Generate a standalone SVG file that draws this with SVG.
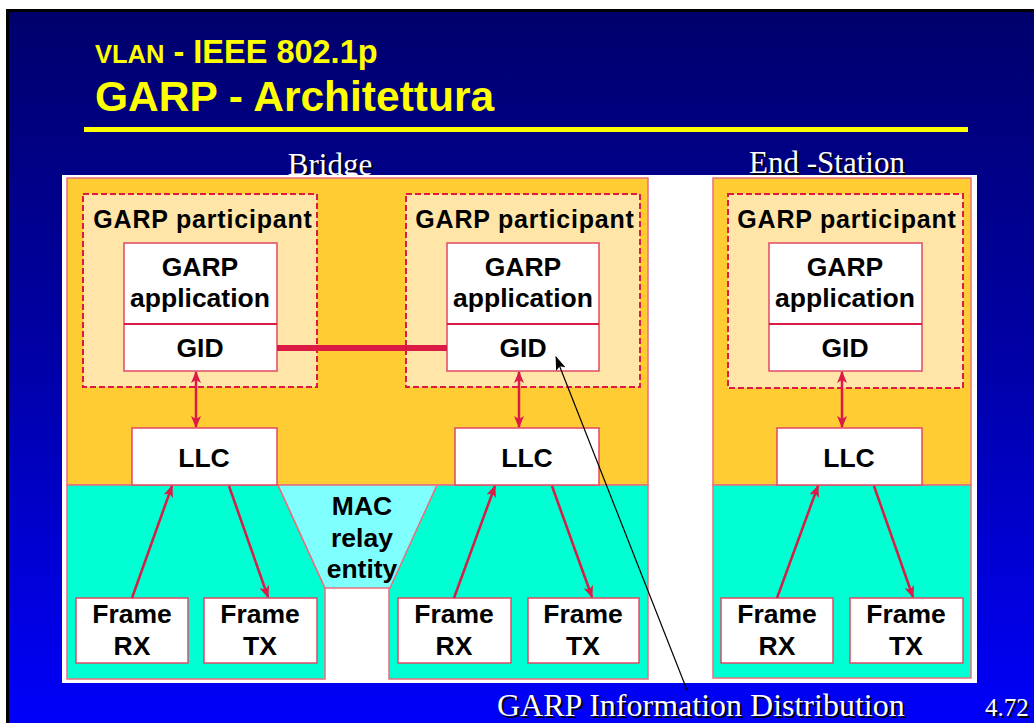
<svg xmlns="http://www.w3.org/2000/svg" width="1034" height="723" viewBox="0 0 1034 723">
<defs>
<linearGradient id="bg" x1="0" y1="0" x2="0" y2="1">
<stop offset="0" stop-color="#00006C"/>
<stop offset="0.5" stop-color="#0000A8"/>
<stop offset="1" stop-color="#0000FA"/>
</linearGradient>
<marker id="ah" viewBox="0 0 12 10" refX="11" refY="5" markerWidth="12" markerHeight="10" markerUnits="userSpaceOnUse" orient="auto-start-reverse">
<path d="M0,0 L12,5 L0,10 L3,5 z" fill="#DC1A46"/>
</marker>
<marker id="ahb" viewBox="0 0 14 10" refX="13" refY="5" markerWidth="14" markerHeight="10" markerUnits="userSpaceOnUse" orient="auto">
<path d="M0,0 L14,5 L0,10 L3,5 z" fill="#000"/>
</marker>
<style>
.sans{font-family:"Liberation Sans",Arial,sans-serif;font-weight:bold;}
.ser{font-family:"Liberation Serif","Times New Roman",serif;}
.orange{fill:#FFCC33;stroke:#E8707E;stroke-width:1.5;}
.cyan{fill:#00FFD2;stroke:#E8707E;stroke-width:1.5;}
.part{fill:#FFE6A8;stroke:#DC1A46;stroke-width:2;stroke-dasharray:6,3;}
.box{fill:#FFFFFF;stroke:#E04A66;stroke-width:1.5;}
.lbl{font-size:26.5px;fill:#000;text-anchor:middle;}
.plbl{font-size:25px;fill:#000;text-anchor:middle;letter-spacing:0.8px;}
.red{stroke:#DC1A46;stroke-width:2.5;fill:none;}
.wt{fill:#FFFFFF;}
.sh{fill:#000000;}
</style>
</defs>
<rect x="0" y="0" width="1034" height="723" fill="#FFFFFF"/>
<rect x="6" y="9" width="1028" height="714" fill="#000000"/>
<rect x="9" y="12" width="1025" height="711" fill="url(#bg)"/>

<g id="title">
<text x="95" y="63" class="sans" fill="#FFFF00" font-size="32.5"><tspan font-size="25.5">VLAN</tspan> - IEEE 802.1p</text>
<text x="95" y="111" class="sans" fill="#FFFF00" font-size="42.5">GARP - Architettura</text>
<rect x="84" y="127" width="884" height="5" fill="#FFFF00"/>
</g>

<g id="headings">
<text x="332" y="177" class="ser sh" font-size="31" text-anchor="middle">Bridge</text>
<text x="330" y="175" class="ser wt" font-size="31" text-anchor="middle">Bridge</text>
<text x="829" y="175" class="ser sh" font-size="31" text-anchor="middle">End -Station</text>
<text x="827" y="173" class="ser wt" font-size="31" text-anchor="middle">End -Station</text>
</g>

<rect id="panel" x="62" y="175" width="915" height="508" fill="#FFFFFF"/>

<g id="bridge">
<rect class="orange" x="67" y="178" width="581" height="307"/>
<polygon class="cyan" points="67,485 278,485 325,588 325,679 67,679"/>
<polygon class="cyan" points="437,485 648,485 648,679 389,679 389,588"/>
<polygon id="mac-relay" points="278,485 437,485 390,588 325,588" fill="#80FFFF" stroke="#E8707E" stroke-width="1.5"/>
<text class="sans lbl" x="362" y="515">MAC</text>
<text class="sans lbl" x="362" y="547">relay</text>
<text class="sans lbl" x="362" y="578">entity</text>
</g>

<g id="endstation">
<rect class="orange" x="713" y="178" width="258" height="307"/>
<rect class="cyan" x="713" y="485" width="258" height="193"/>
</g>

<g id="participant-left">
<rect class="part" x="83" y="194" width="234" height="193"/>
<text class="sans plbl" x="203" y="228">GARP participant</text>
<rect class="box" x="124" y="243" width="153" height="128"/>
<line x1="124" y1="324" x2="277" y2="324" stroke="#DC1A46" stroke-width="2"/>
<text class="sans lbl" x="200" y="276">GARP</text>
<text class="sans lbl" x="200" y="307">application</text>
<text class="sans lbl" x="200" y="357">GID</text>
</g>
<g id="participant-mid">
<rect class="part" x="406" y="194" width="234" height="193"/>
<text class="sans plbl" x="525" y="228">GARP participant</text>
<rect class="box" x="447" y="243" width="152" height="128"/>
<line x1="447" y1="324" x2="599" y2="324" stroke="#DC1A46" stroke-width="2"/>
<text class="sans lbl" x="523" y="276">GARP</text>
<text class="sans lbl" x="523" y="307">application</text>
<text class="sans lbl" x="523" y="357">GID</text>
</g>
<g id="participant-end">
<rect class="part" x="728" y="194" width="235" height="194"/>
<text class="sans plbl" x="847" y="228">GARP participant</text>
<rect class="box" x="769" y="243" width="153" height="128"/>
<line x1="769" y1="324" x2="922" y2="324" stroke="#DC1A46" stroke-width="2"/>
<text class="sans lbl" x="845" y="276">GARP</text>
<text class="sans lbl" x="845" y="307">application</text>
<text class="sans lbl" x="845" y="357">GID</text>
</g>

<g id="llc-left"><rect class="box" x="132" y="428" width="145" height="57"/><text class="sans lbl" x="204" y="467">LLC</text></g>
<g id="llc-mid"><rect class="box" x="455" y="428" width="144" height="57"/><text class="sans lbl" x="527" y="467">LLC</text></g>
<g id="llc-end"><rect class="box" x="777" y="428" width="145" height="57"/><text class="sans lbl" x="849" y="467">LLC</text></g>

<g id="frx-left"><rect class="box" x="76" y="598" width="112" height="65"/><text class="sans lbl" x="132" y="623">Frame</text><text class="sans lbl" x="132" y="655">RX</text></g>
<g id="ftx-left"><rect class="box" x="204" y="598" width="113" height="65"/><text class="sans lbl" x="260" y="623">Frame</text><text class="sans lbl" x="260" y="655">TX</text></g>
<g id="frx-mid"><rect class="box" x="398" y="598" width="113" height="65"/><text class="sans lbl" x="454" y="623">Frame</text><text class="sans lbl" x="454" y="655">RX</text></g>
<g id="ftx-mid"><rect class="box" x="528" y="598" width="111" height="65"/><text class="sans lbl" x="583" y="623">Frame</text><text class="sans lbl" x="583" y="655">TX</text></g>
<g id="frx-end"><rect class="box" x="721" y="598" width="112" height="65"/><text class="sans lbl" x="777" y="623">Frame</text><text class="sans lbl" x="777" y="655">RX</text></g>
<g id="ftx-end"><rect class="box" x="850" y="598" width="113" height="65"/><text class="sans lbl" x="906" y="623">Frame</text><text class="sans lbl" x="906" y="655">TX</text></g>

<g id="connectors">
<line x1="277" y1="348" x2="447" y2="348" stroke="#DC1A46" stroke-width="6"/>
<line class="red" x1="196" y1="372" x2="196" y2="427" marker-start="url(#ah)" marker-end="url(#ah)"/>
<line class="red" x1="519" y1="372" x2="519" y2="427" marker-start="url(#ah)" marker-end="url(#ah)"/>
<line class="red" x1="842" y1="372" x2="842" y2="427" marker-start="url(#ah)" marker-end="url(#ah)"/>
<line class="red" x1="132" y1="598" x2="172" y2="486" marker-end="url(#ah)"/>
<line class="red" x1="229" y1="486" x2="268" y2="597" marker-end="url(#ah)"/>
<line class="red" x1="454" y1="598" x2="495" y2="486" marker-end="url(#ah)"/>
<line class="red" x1="552" y1="486" x2="592" y2="597" marker-end="url(#ah)"/>
<line class="red" x1="777" y1="598" x2="818" y2="486" marker-end="url(#ah)"/>
<line class="red" x1="874" y1="486" x2="913" y2="597" marker-end="url(#ah)"/>
<line x1="687" y1="690" x2="556" y2="357" stroke="#000" stroke-width="1.2" marker-end="url(#ahb)"/>
</g>

<g id="footer">
<text x="499" y="718" class="ser sh" font-size="32">GARP Information Distribution</text>
<text x="497" y="716" class="ser wt" font-size="32">GARP Information Distribution</text>
<text x="987" y="718" class="ser sh" font-size="25">4.72</text>
<text x="985" y="716" class="ser wt" font-size="25">4.72</text>
</g>
</svg>
